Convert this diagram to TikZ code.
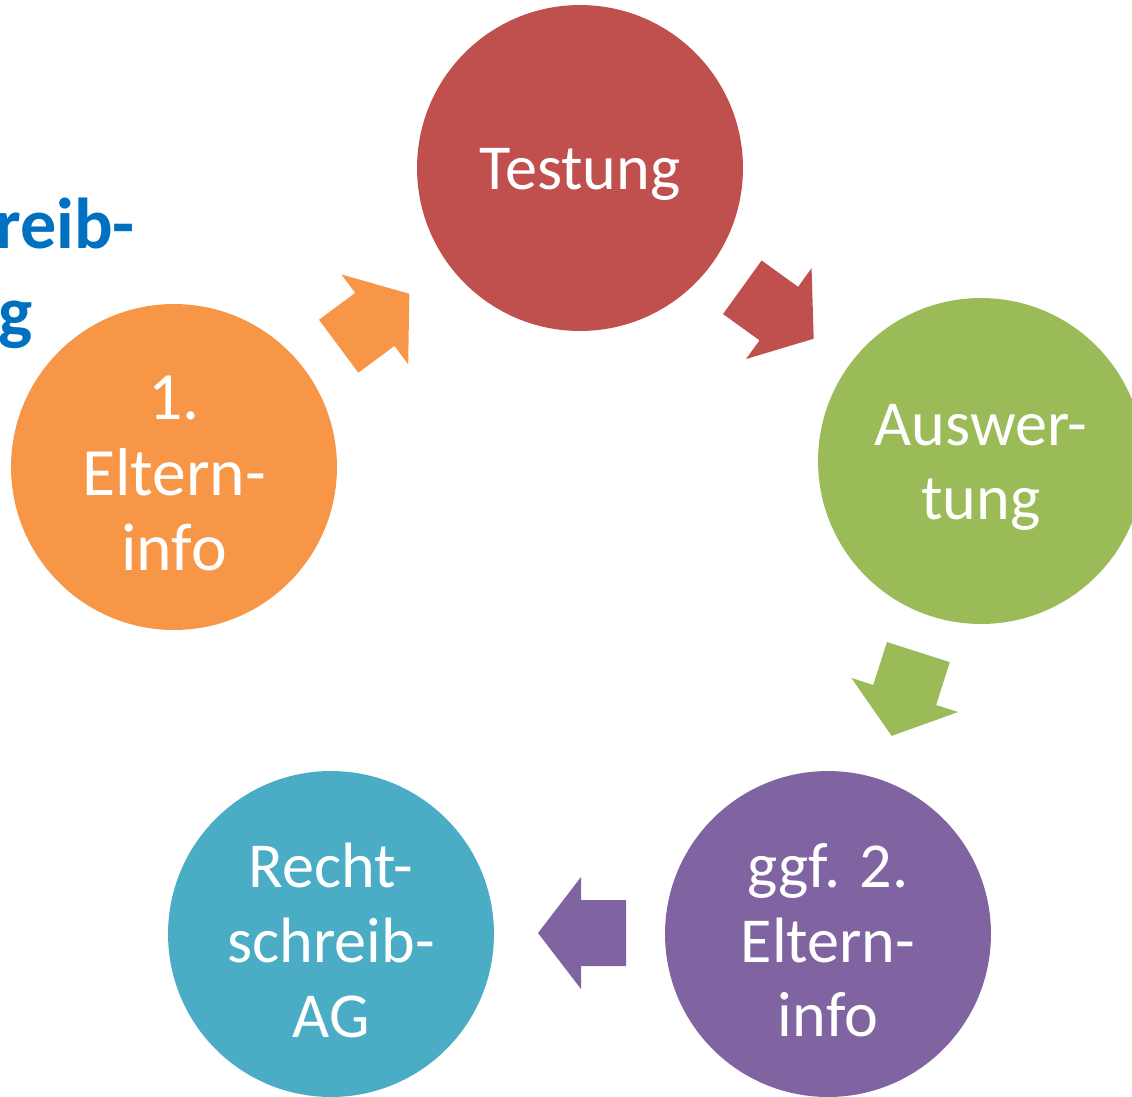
\documentclass[tikz,border=0pt]{standalone}
\usepackage{fontspec}
\setmainfont{Carlito}
\definecolor{testred}{HTML}{C0504D}
\definecolor{evalgreen}{HTML}{9BBB59}
\definecolor{infoorange}{HTML}{F79646}
\definecolor{infopurple}{HTML}{8064A2}
\definecolor{agteal}{HTML}{4BACC6}
\definecolor{titleblue}{HTML}{0070C0}
\tikzset{
  stage/.style={circle, minimum size=6.52cm, inner sep=0pt},
  stagetext/.style={text=white, align=center, inner sep=0pt, yshift=-0.13cm,
    font=\fontsize{36.5}{42.5}\selectfont},
  titletext/.style={anchor=base west, inner sep=0pt, text=titleblue,
    font=\fontsize{41}{48}\selectfont\bfseries}
}
\begin{document}
\begin{tikzpicture}[x=0.02cm,y=-0.02cm]

    % Frame
    \useasboundingbox (0,0) rectangle (1132,1096);
    \clip (0,0) rectangle (1132,1096);

    % Cut-off title
    \node[titletext] (title1) at (-5,248) {reib-};
    \node[titletext] (title2) at (-2,336) {g};

    % Stages of the cycle
    \node[stage, fill=testred, label={[stagetext]center:Testung}] (test) at (580,168) {};
    \node[stage, fill=evalgreen, label={[stagetext]center:Auswer-\\tung}] (eval) at (981,461) {};
    \node[stage, fill=infopurple, label={[stagetext]center:ggf. 2.\\Eltern-\\info}] (info2) at (828,934) {};
    \node[stage, fill=agteal, label={[stagetext]center:Recht-\\schreib-\\AG}] (ag) at (331,934) {};
    \node[stage, fill=infoorange, label={[stagetext, font=\fontsize{38.5}{43}\selectfont]center:1.\\Eltern-\\info}] (info1) at (174,467) {};

    % Block arrows between the stages
    \foreach \cx/\cy/\ang/\col in {374/320/36.6/infoorange, 778/313/-35.8/testred,
                                   905/694/-107.7/evalgreen, 582/933/180/infopurple}
    {
        \begin{scope}[shift={(\cx,\cy)}, rotate=\ang]
            \fill[\col] (-44,-33) -- (1,-33) -- (1,-56) -- (44,0)
                -- (1,56) -- (1,33) -- (-44,33) -- cycle;
        \end{scope}
    }

\end{tikzpicture}
\end{document}
